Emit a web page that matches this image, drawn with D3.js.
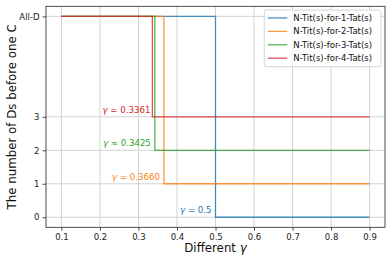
<!DOCTYPE html>
<html><head><meta charset="utf-8">
<script src="https://cdn.jsdelivr.net/npm/d3@7"></script>
<style>
body{margin:0;background:#fff;}
svg{display:block;font-family:"DejaVu Sans",sans-serif;}
</style></head>
<body><svg id="c" width="392" height="262"></svg>
<script>
// ---- data ----
const seriesNames = ["N-Tit(s)-for-1-Tat(s)","N-Tit(s)-for-2-Tat(s)","N-Tit(s)-for-3-Tat(s)","N-Tit(s)-for-4-Tat(s)"];
const gammaStart = 0.1;
const gammaEnd = 0.9;
const thresholds = [0.5, 0.3660, 0.3425, 0.3361];
const levelsAfter = [0, 1, 2, 3];
const allDLevel = 6;
const annotationTexts = [["γ"," = 0.5"],["γ"," = 0.3660"],["γ"," ≈ 0.3425"],["γ"," = 0.3361"]];
const xTickValues = [0.1,0.2,0.3,0.4,0.5,0.6,0.7,0.8,0.9];
const yTickValues = [0,1,2,3,6];
const yTickLabels = ["0","1","2","3","All-D"];

// ---- styles ----
const colors = ["#1f77b4","#ff7f0e","#2ca02c","#d62728"];
const annDx = [-4,-4,-4,-2];

const svg = d3.select("#c");
const L=46, R=385, T=6.3, B=227.3;
const x = d3.scaleLinear().domain([0.06,0.94]).range([L,R]);
const y = d3.scaleLinear().domain([-0.3,6.3]).range([B,T]);

// grid
const g = svg.append("g");
g.selectAll(".gx").data(xTickValues).enter().append("line")
  .attr("x1",d=>x(d)).attr("x2",d=>x(d)).attr("y1",T).attr("y2",B)
  .attr("stroke","#d3d3d3").attr("stroke-width",1);
g.selectAll(".gy").data(yTickValues).enter().append("line")
  .attr("x1",L).attr("x2",R).attr("y1",d=>y(d)).attr("y2",d=>y(d))
  .attr("stroke","#d3d3d3").attr("stroke-width",1);

// lines
const line = d3.line().x(d=>x(d[0])).y(d=>y(d[1])).curve(d3.curveStepAfter);
seriesNames.forEach((name,i)=>{
  const pts = [[gammaStart,allDLevel],[thresholds[i],levelsAfter[i]],[gammaEnd,levelsAfter[i]]];
  svg.append("path").attr("d",line(pts)).attr("fill","none")
    .attr("stroke",colors[i]).attr("stroke-width",1.3).attr("stroke-opacity",0.8);
});

// annotations
annotationTexts.forEach((t,i)=>{
  const tx = svg.append("text").attr("x",x(thresholds[i])+annDx[i]).attr("y",y(levelsAfter[i])-4)
    .attr("text-anchor","end").attr("font-size",8.6).attr("fill",colors[i]);
  tx.append("tspan").attr("font-style","italic").text(t[0]);
  tx.append("tspan").text(t[1]);
});

// axes
const xAxis = d3.axisBottom(x).tickValues(xTickValues).tickSize(3.5).tickPadding(3).tickFormat(d3.format(".1f"));
const yAxis = d3.axisLeft(y).tickValues(yTickValues).tickSize(3.5).tickPadding(3).tickFormat((d,i)=>yTickLabels[i]);
const xa = svg.append("g").attr("transform",`translate(0,${B})`).call(xAxis);
const ya = svg.append("g").attr("transform",`translate(${L},0)`).call(yAxis);
[xa,ya].forEach(a=>{
  a.select(".domain").remove();
  a.selectAll("line").attr("stroke","#222").attr("stroke-width",0.8);
  a.selectAll("text").attr("font-family","DejaVu Sans").attr("font-size",8.5).attr("fill","#222");
});

// spines
svg.append("rect").attr("x",L).attr("y",T).attr("width",R-L).attr("height",B-T)
  .attr("fill","none").attr("stroke","#222").attr("stroke-width",0.8);

// axis labels
const xl = svg.append("text").attr("x",(L+R)/2).attr("y",252).attr("text-anchor","middle")
  .attr("font-size",11.8).attr("fill","#111");
xl.append("tspan").text("Different ");
xl.append("tspan").attr("font-style","italic").text("γ");
svg.append("text").attr("transform",`translate(16,${(T+B)/2}) rotate(-90)`)
  .attr("text-anchor","middle").attr("font-size",11.8).attr("fill","#111")
  .text("The number of Ds before one C");

// legend
const lg = svg.append("g");
lg.append("rect").attr("x",264.3).attr("y",10).attr("width",116.7).attr("height",56.7)
  .attr("rx",2).attr("fill","#fff").attr("fill-opacity",0.8).attr("stroke","#ccc").attr("stroke-width",0.8);
seriesNames.forEach((name,i)=>{
  const yy = 18 + i*13.4;
  lg.append("line").attr("x1",267.7).attr("x2",287.3).attr("y1",yy).attr("y2",yy)
    .attr("stroke",colors[i]).attr("stroke-width",1.3).attr("stroke-opacity",0.8);
  lg.append("text").attr("x",293.3).attr("y",yy+3).attr("font-size",8.5).attr("fill","#111").text(name);
});
</script></body></html>
